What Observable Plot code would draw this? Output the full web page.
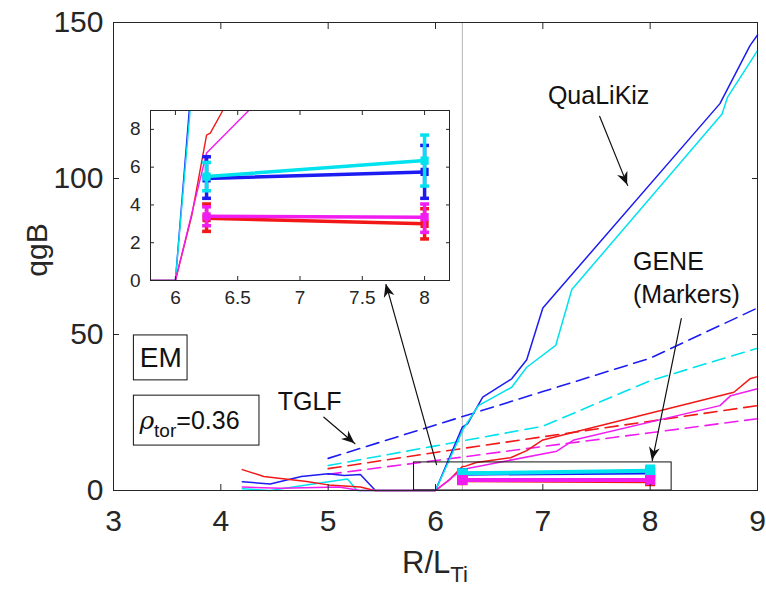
<!DOCTYPE html>
<html><head><meta charset="utf-8">
<script src="https://cdn.jsdelivr.net/npm/d3@7"></script>
<script src="https://cdn.jsdelivr.net/npm/@observablehq/plot@0.6"></script>
<style>
body{margin:0;background:#fff;}
#wrap{position:relative;width:766px;height:594px;font-family:"Liberation Sans",Arial,Helvetica,sans-serif;}
#wrap svg{position:absolute;overflow:visible;background:transparent;}
</style></head><body><div id="wrap"></div>
<script>
// ---------- data ----------
// QuaLiKiz (solid lines): [R/L_Ti, qgB]
const qlkBlue = [[4.2,2.8],[4.46,2.1],[4.75,4.5],[5.0,5.4],[5.15,4.8],[5.3,5.1],[5.44,0],[6.0,0],[6.25,20.3],[6.3,21.4],[6.44,29.9],[6.71,35.8],[6.85,41.9],[7.0,58.5],[8.65,124],[8.93,142.6],[9.0,146]];
const qlkCyan = [[4.2,0.6],[4.46,0],[4.86,2.1],[5.18,3.7],[5.27,0],[6.0,0],[6.26,19.8],[6.4,27.2],[6.71,33.1],[6.85,39.5],[7.12,46.5],[7.27,64.4],[8.67,120.7],[8.72,126],[9.0,141]];
const qlkRed = [[4.2,6.7],[4.4,4.5],[4.6,3.7],[4.8,2.9],[5.0,1.8],[5.3,1.1],[5.43,0],[6.0,0],[6.13,3.4],[6.25,7.7],[6.28,7.8],[6.38,9.0],[6.7,10.5],[6.85,12.8],[7.0,16.2],[8.78,31.5],[8.93,35.8],[9.0,36.5]];
const qlkMagenta = [[4.2,1.1],[4.56,0.75],[5.1,1.1],[5.3,0],[6.0,0],[6.25,6.75],[7.13,12.6],[7.29,16.2],[8.65,27.2],[8.75,30.4],[9.0,32.6]];
// TGLF (dashed lines)
const tglfBlue = [[5,10.3],[6,21.0],[7,31.7],[8,42.4],[9,58.5]];
const tglfCyan = [[5,8.0],[6,14.3],[7,20.6],[8,35.2],[9,45.6]];
const tglfRed = [[5,7.0],[6,12.2],[7,17.2],[8,22.2],[9,27.2]];
const tglfMagenta = [[5,5.2],[6,9.6],[7,14.1],[8,18.5],[9,23.0]];
// GENE (markers with error bars)
const geneX = [6.25, 8];
const geneBlue = [5.4, 5.75], geneBlueLo = [4.35, 4.35], geneBlueHi = [6.55, 7.15];
const geneCyan = [5.5, 6.35], geneCyanLo = [4.75, 5.0], geneCyanHi = [6.25, 7.7];
const geneRed = [3.3, 3.0], geneRedLo = [2.6, 2.2], geneRedHi = [4.05, 3.8];
const geneMagenta = [3.4, 3.35], geneMagentaLo = [2.9, 2.55], geneMagentaHi = [3.9, 4.05];
// axes
const xTicks = [3,4,5,6,7,8,9];
const yTicks = [0,50,100,150];
const insetXDomain = [5.8, 8.2];
const insetYDomain = [0, 9];
const insetXTicks = [6,6.5,7,7.5,8];
const insetYTicks = [0,2,4,6,8];

// ---------- styling ----------
const F = '"Liberation Sans", Arial, Helvetica, sans-serif';
const AX = "#262626";
const series = [
  {color:"#1c1cf2", qlk:qlkBlue, tglf:tglfBlue, gene:geneBlue, lo:geneBlueLo, hi:geneBlueHi},
  {color:"#00e2ee", qlk:qlkCyan, tglf:tglfCyan, gene:geneCyan, lo:geneCyanLo, hi:geneCyanHi},
  {color:"#f21818", qlk:qlkRed, tglf:tglfRed, gene:geneRed, lo:geneRedLo, hi:geneRedHi},
  {color:"#f01cf0", qlk:qlkMagenta, tglf:tglfMagenta, gene:geneMagenta, lo:geneMagentaLo, hi:geneMagentaHi}
];
const capSymbol = {draw(ctx, size){ const w = Math.sqrt(size)/2; ctx.moveTo(-w,0); ctx.lineTo(w,0); }};
function geneMarks(s, o){
  const rows = geneX.map((x,i)=>({x, y:s.gene[i], lo:s.lo[i], hi:s.hi[i]}));
  return [
    Plot.line(rows, {x:"x", y:"y", stroke:s.color, strokeWidth:o.lineW}),
    Plot.ruleX(rows, {x:"x", y1:"lo", y2:"hi", stroke:s.color, strokeWidth:o.barW}),
    Plot.dot(rows, {x:"x", y:"lo", symbol:capSymbol, r:o.capR, fill:"none", stroke:s.color, strokeWidth:o.barW}),
    Plot.dot(rows, {x:"x", y:"hi", symbol:capSymbol, r:o.capR, fill:"none", stroke:s.color, strokeWidth:o.barW}),
    Plot.dot(rows, {x:"x", y:"y", symbol:"square", r:o.markR, fill:s.color, stroke:s.color, strokeWidth:2})
  ];
}
const xy = {x:d=>d[0], y:d=>d[1]};

// annotations (data coordinates)
const labelMid = [{x:7.52, y:126.6, t:"QuaLiKiz"}];
const labelStart = [
  {x:7.84, y:73.2, t:"GENE"},
  {x:7.84, y:62.6, t:"(Markers)"},
  {x:4.53, y:28.4, t:"TGLF"}
];
const arrows = [
  {x1:7.53, y1:119.9, x2:7.79, y2:97.8},
  {x1:8.29, y1:55.1, x2:8.02, y2:9.6},
  {x1:4.96, y1:23.5, x2:5.25, y2:15.0},
  {x1:6.01, y1:8.3, x2:5.54, y2:66.0}
];
const boxes = [
  {x1:3.19, x2:3.69, y1:35.3, y2:49.7},
  {x1:3.19, x2:4.36, y1:14.4, y2:30.4}
];

const wrap = document.getElementById("wrap");

const main = Plot.plot({
  width:766, height:594,
  marginLeft:113, marginRight:9, marginTop:22, marginBottom:104,
  x:{domain:[3,9]}, y:{domain:[0,150]},
  style:{fontFamily:F, background:"transparent", overflow:"visible"},
  marks:[
    Plot.ruleX([geneX[0]], {stroke:"#b4b4b4", strokeWidth:1}),
    ...series.map(s=>Plot.line(s.tglf, {...xy, stroke:s.color, strokeWidth:1.6, strokeDasharray:"13,7"})),
    ...series.map(s=>Plot.line(s.qlk, {...xy, stroke:s.color, strokeWidth:1.5})),
    Plot.rect([{x1:insetXDomain[0], x2:insetXDomain[1], y1:insetYDomain[0], y2:insetYDomain[1]}], {x1:"x1", x2:"x2", y1:"y1", y2:"y2", fill:"none", stroke:"#111", strokeWidth:1}),
    ...series.flatMap(s=>geneMarks(s, {lineW:4, barW:4, capR:5.5, markR:4.5})),
    Plot.rect(boxes, {x1:"x1", x2:"x2", y1:"y1", y2:"y2", fill:"white", stroke:"#111", strokeWidth:1}),
    Plot.text(["EM"], {x:3.44, y:42.5, text:d=>d, fontSize:28, fill:"#111"}),
    Plot.text(labelMid, {x:"x", y:"y", text:"t", textAnchor:"middle", fontSize:25, fill:"#111"}),
    Plot.text(labelStart, {x:"x", y:"y", text:"t", textAnchor:"start", fontSize:25, fill:"#111"}),
    Plot.arrow(arrows, {x1:"x1", y1:"y1", x2:"x2", y2:"y2", stroke:"#111", strokeWidth:1.2, headLength:0}),
    Plot.frame({stroke:AX}),
    Plot.axisX({ticks:xTicks, tickSize:-6, tickPadding:25, fontSize:30, color:AX, label:null, tickFormat:d=>`${d}`}),
    Plot.axisX({anchor:"top", ticks:xTicks, tickSize:-6, tickFormat:()=>"", color:AX, label:null}),
    Plot.axisY({ticks:yTicks, tickSize:-6, tickPadding:16, fontSize:30, color:AX, label:null}),
    Plot.axisY({anchor:"right", ticks:yTicks, tickSize:-6, tickFormat:()=>"", color:AX, label:null})
  ]
});
main.style.left = "0px"; main.style.top = "0px";
wrap.appendChild(main);

// labels with subscripts and filled arrowheads, placed via the plot's scales
const sx = main.scale("x"), sy = main.scale("y");
const svg = d3.select(main);
svg.append("text").attr("transform", `translate(36,${(sy.apply(0)+sy.apply(150))/2 - 6}) rotate(-90)`)
  .attr("text-anchor","middle").attr("dy","0.35em").attr("font-size",30).attr("fill",AX).text("qgB");
const xl = svg.append("text").attr("x", (sx.apply(3)+sx.apply(9))/2).attr("y", 573)
  .attr("text-anchor","middle").attr("font-size",31).attr("fill",AX);
xl.append("tspan").text("R/L");
xl.append("tspan").attr("font-size",22).attr("dy",9).text("Ti");
const rho = svg.append("text").attr("text-anchor","start")
  .attr("x", sx.apply(boxes[1].x1)+6).attr("y", sy.apply((boxes[1].y1+boxes[1].y2)/2)+9)
  .attr("font-size",25).attr("fill","#111");
rho.append("tspan").attr("font-style","italic").attr("font-family","'DejaVu Serif', serif").text("ρ");
rho.append("tspan").attr("font-size",19).attr("dy",8).text("tor");
rho.append("tspan").attr("dy",-8).text("=0.36");
// arrowheads
arrows.forEach(a=>{
  const px1 = sx.apply(a.x1), py1 = sy.apply(a.y1), px2 = sx.apply(a.x2), py2 = sy.apply(a.y2);
  const ang = Math.atan2(py2-py1, px2-px1)*180/Math.PI;
  svg.append("path").attr("d","M0,0L-13,-5.5L-9,0L-13,5.5Z").attr("fill","#111")
    .attr("transform",`translate(${px2},${py2}) rotate(${ang})`);
});

// inset
const iL = 40, iR = 10, iT = 5, iB = 30;
const inset = Plot.plot({
  width: iL + 299 + iR, height: iT + 170 + iB,
  marginLeft:iL, marginRight:iR, marginTop:iT, marginBottom:iB,
  x:{domain:insetXDomain}, y:{domain:insetYDomain},
  style:{fontFamily:F, background:"transparent", overflow:"visible"},
  marks:[
    Plot.frame({fill:"white"}),
    ...series.map(s=>Plot.line(s.qlk, {...xy, stroke:s.color, strokeWidth:1.4, clip:true})),
    ...series.flatMap(s=>geneMarks(s, {lineW:3.5, barW:3.5, capR:5, markR:3.5})),
    Plot.frame({stroke:AX}),
    Plot.axisX({ticks:insetXTicks, tickSize:-4, tickPadding:14, fontSize:19, color:AX, label:null, tickFormat:d=>`${d}`}),
    Plot.axisX({anchor:"top", ticks:insetXTicks, tickSize:-4, tickFormat:()=>"", color:AX, label:null}),
    Plot.axisY({ticks:insetYTicks, tickSize:-4, tickPadding:14, fontSize:19, color:AX, label:null}),
    Plot.axisY({anchor:"right", ticks:insetYTicks, tickSize:-4, tickFormat:()=>"", color:AX, label:null})
  ]
});
inset.style.left = (150 - iL) + "px"; inset.style.top = (110 - iT) + "px";
wrap.appendChild(inset);
</script></body></html>
